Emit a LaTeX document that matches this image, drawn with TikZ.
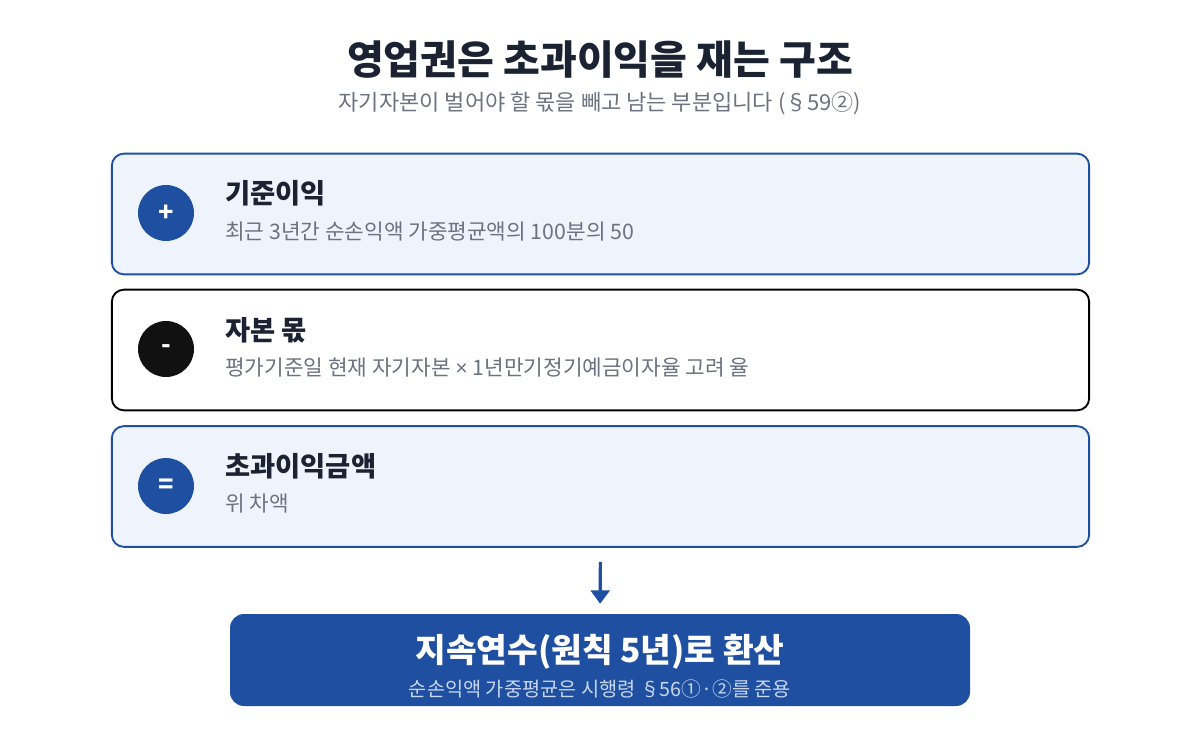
\documentclass[tikz,border=0pt]{standalone}
\usepackage{fontspec}
\usetikzlibrary{arrows.meta}
\setmainfont{Noto Sans CJK KR}
\newfontfamily\latinfont{Liberation Sans}
\definecolor{mainblue}{HTML}{1F4FA0}
\definecolor{cardfill}{HTML}{EFF4FC}
\definecolor{titledark}{HTML}{1B2333}
\definecolor{subgray}{HTML}{6B7280}
\definecolor{sublight}{HTML}{C9D6EE}
\definecolor{blackish}{HTML}{111111}
\begin{document}
\begin{tikzpicture}[x=0.75pt,y=-0.75pt,
  card/.style={draw, rounded corners=9pt, line width=1.4pt, minimum width=733pt, minimum height=90.5pt, inner sep=0pt},
  circ/.style={circle, minimum size=42pt, inner sep=0pt, text=white, font=\bfseries\fontsize{19}{22}\selectfont},
  cardtitle/.style={anchor=west, inner sep=0pt, text=titledark, font=\bfseries\fontsize{20.5}{24}\selectfont},
  cardsub/.style={anchor=west, inner sep=0pt, text=subgray, font=\fontsize{16}{19}\selectfont},
  flow/.style={draw=mainblue, line width=2.4pt, -{Triangle[length=10pt,width=14pt]}}]
\useasboundingbox (0,0) rectangle (1200,740);
\fill[white] (0,0) rectangle (1200,740);
\node[inner sep=0pt, text=titledark, font=\bfseries\fontsize{30}{34}\selectfont] (title) at (600,60) {영업권은 초과이익을 재는 구조};
\node[inner sep=0pt, text=subgray, font=\fontsize{16.5}{19}\selectfont] (subtitle) at (600,103) {자기자본이 벌어야 할 몫을 빼고 남는 부분입니다 (§59②)};
% card 1
\node[card, draw=mainblue, fill=cardfill] (b1) at (600.5,214) {};
\node[circ, fill=mainblue] (c1) at (166,213) {+};
\node[cardtitle] (t1) at (225,193) {기준이익};
\node[cardsub] (s1) at (225,232) {최근 3년간 순손익액 가중평균액의 100분의 50};
% card 2
\node[card, draw=black, fill=white] (b2) at (600.5,350) {};
\node[circ, fill=blackish] (c2) at (166,349) {-};
\node[cardtitle] (t2) at (225,330) {자본 몫};
\node[cardsub] (s2) at (225,368) {평가기준일 현재 자기자본 {\latinfont ×} 1년만기정기예금이자율 고려 율};
% card 3
\node[card, draw=mainblue, fill=cardfill] (b3) at (600.5,486.5) {};
\node[circ, fill=mainblue] (c3) at (166,486) {=};
\node[cardtitle] (t3) at (225,466) {초과이익금액};
\node[cardsub] (s3) at (225,504) {위 차액};
% final
\node[fill=mainblue, rounded corners=10.5pt, minimum width=555pt, minimum height=69pt, inner sep=0pt] (fin) at (600,660) {};
\node[inner sep=0pt, text=white, font=\bfseries\fontsize{25}{29}\selectfont] (ft) at (600,652) {지속연수(원칙 5년)로 환산};
\node[inner sep=0pt, text=sublight, font=\fontsize{14.8}{17}\selectfont] (fs) at (600,689) {순손익액 가중평균은 시행령 §56①·②를 준용};
\draw[flow, shorten <=10.5pt, shorten >=7.5pt] (b3.south) -- (fin.north);
\end{tikzpicture}
\end{document}
